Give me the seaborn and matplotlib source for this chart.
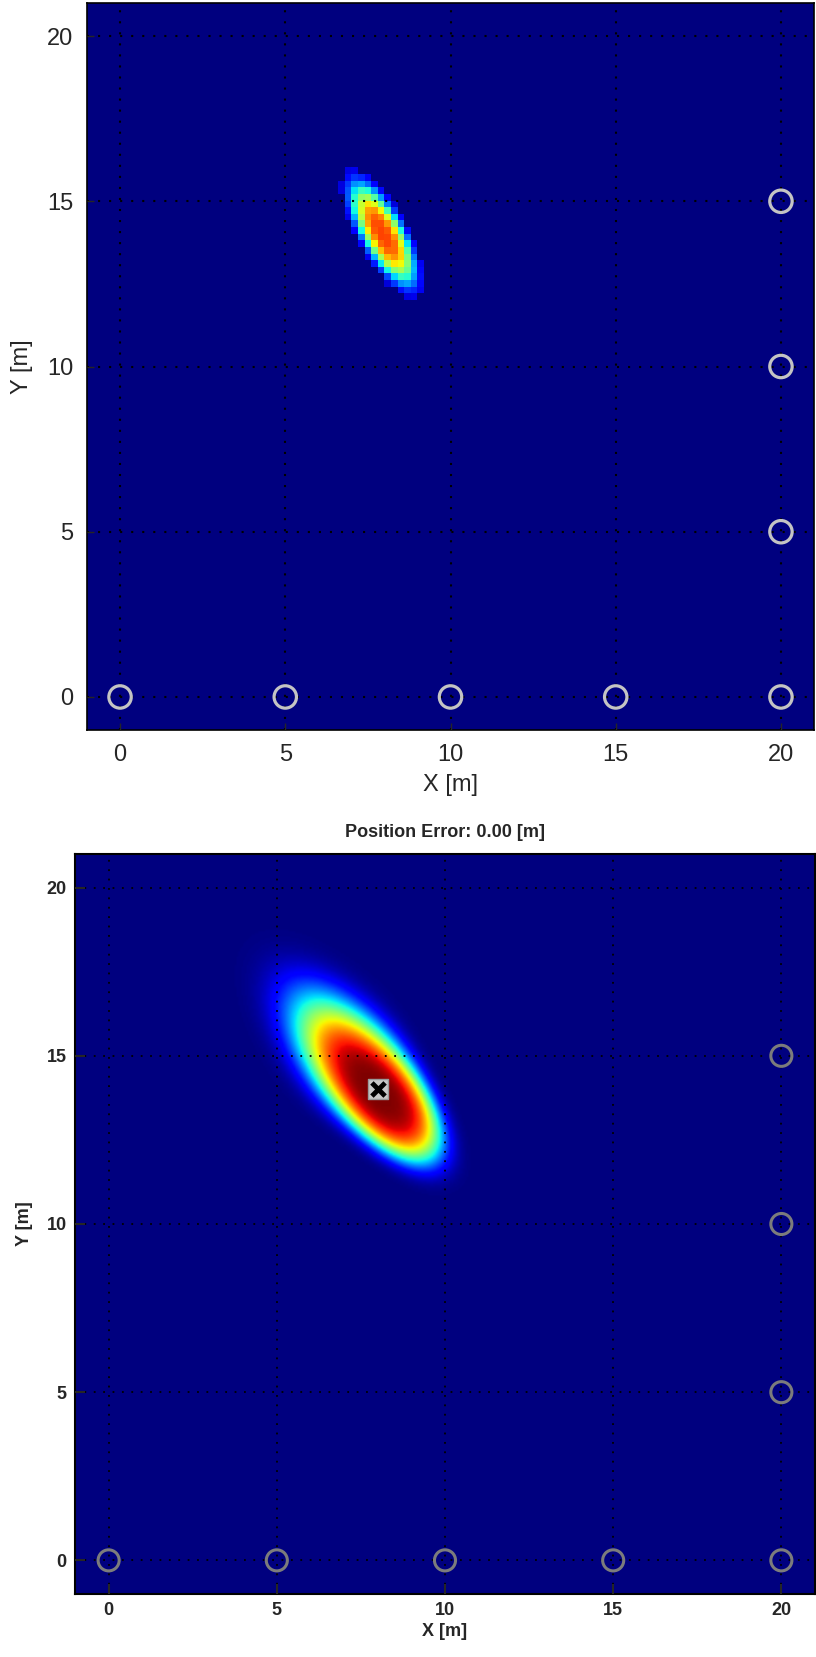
import numpy as np
import matplotlib
matplotlib.use("Agg")
import matplotlib.pyplot as plt
import seaborn as sns

# anchors (grey circles) and the estimated position
anchor_x = [0, 5, 10, 15, 20, 20, 20, 20]
anchor_y = [0, 0, 0, 0, 0, 5, 10, 15]
est_x = [8.0]
est_y = [14.0]
ticks = [0, 5, 10, 15, 20]
lims = (-1, 21)
position_error = 0.00

# top panel: particle histogram, 0.2 m cells (shape)
hist_center = (7.95, 14.0)
hist_angle = -61.0          # deg, direction of the long axis
hist_scale = (1.65, 0.58)   # long / short axis
hist_power = 3.0
hist_cell = 0.2
hist_cut = 0.09
hist_top_level = 0.84       # where the peak sits on the jet scale

# bottom panel: smooth likelihood surface, longer on the upper-left side
lik_center = (7.93, 14.03)
lik_angle = -50.0
lik_scale_major = (2.6, 3.3)    # lower-right side, upper-left side
lik_scale_minor = (1.16, 1.35)
lik_power = (4.3, 3.0)
lik_cell = 0.05


def rotate(X, Y, c, ang):
    a = np.deg2rad(ang)
    dx, dy = X - c[0], Y - c[1]
    u = dx * np.cos(a) + dy * np.sin(a)
    v = -dx * np.sin(a) + dy * np.cos(a)
    return u, v


# histogram grid
edges = np.arange(lims[0], lims[1] + 1e-9, hist_cell)
cen = edges[:-1] + hist_cell / 2
X, Y = np.meshgrid(cen, cen)
u, v = rotate(X, Y, hist_center, hist_angle)
r = np.sqrt((u / hist_scale[0]) ** 2 + (v / hist_scale[1]) ** 2)
H = np.exp(-r ** hist_power)
H[H < hist_cut] = 0

# likelihood grid
edges2 = np.arange(lims[0], lims[1] + 1e-9, lik_cell)
cen2 = edges2[:-1] + lik_cell / 2
X2, Y2 = np.meshgrid(cen2, cen2)
u2, v2 = rotate(X2, Y2, lik_center, lik_angle)
w = 1 / (1 + np.exp(np.clip(u2 / 0.8, -50, 50)))   # 1 on the upper-left side
su = lik_scale_major[0] * (1 - w) + lik_scale_major[1] * w
sv = lik_scale_minor[0] * (1 - w) + lik_scale_minor[1] * w
p = lik_power[0] * (1 - w) + lik_power[1] * w
rc = np.sqrt((u2 / su) ** 2 + (v2 / sv) ** 2)
L = np.exp(-rc ** p)

sns.set_style("ticks")
plt.rcParams["font.family"] = ["Liberation Sans", "DejaVu Sans"]

fig = plt.figure(figsize=(8.16, 16.57), dpi=100)
W, Hf = 816, 1657
ax1 = fig.add_axes([87 / W, 1 - 730 / Hf, 727 / W, 727 / Hf])
ax2 = fig.add_axes([75 / W, 1 - 1594 / Hf, 740 / W, 740 / Hf])

# ---- top
ax1.imshow(H, extent=(lims[0], lims[1], lims[0], lims[1]), origin="lower",
           cmap="jet", vmin=0, vmax=1 / hist_top_level,
           interpolation="nearest", aspect="auto")
sns.scatterplot(x=anchor_x, y=anchor_y, ax=ax1, marker="o", s=260,
                color="none", edgecolor="#c4c4c4", linewidth=2.3, zorder=3)
ax1.set_xlabel("X [m]", fontsize=17, labelpad=6)
ax1.set_ylabel("Y [m]", fontsize=17, labelpad=10)
ax1.tick_params(direction="in", length=5, width=1, pad=10, labelsize=17,
                top=False, right=False)

# ---- bottom
ax2.imshow(L, extent=(lims[0], lims[1], lims[0], lims[1]), origin="lower",
           cmap="jet", vmin=0, vmax=1, interpolation="bilinear", aspect="auto")
sns.scatterplot(x=anchor_x, y=anchor_y, ax=ax2, marker="o", s=230,
                color="none", edgecolor="#7c7c7c", linewidth=2.2, zorder=3)
sns.scatterplot(x=est_x, y=est_y, ax=ax2, marker="s", s=200,
                color="#c8c8c8", edgecolor="#9a9a9a", linewidth=1, zorder=4)
sns.scatterplot(x=est_x, y=est_y, ax=ax2, marker="x", s=90,
                color="black", linewidth=3.5, zorder=5)
ax2.set_title("Position Error: %.2f [m]" % position_error, fontsize=13,
              fontweight="bold", pad=12)
ax2.set_xlabel("X [m]", fontsize=13, fontweight="bold", labelpad=3)
ax2.set_ylabel("Y [m]", fontsize=13, fontweight="bold", labelpad=10)
ax2.tick_params(direction="in", length=7, width=1.5, pad=6, labelsize=13,
                top=False, right=False)

for ax, lw, dash in ((ax1, 1.5, (1, 4.3)), (ax2, 1.3, (1, 4.2))):
    ax.set_xlim(*lims)
    ax.set_ylim(*lims)
    ax.set_xticks(ticks)
    ax.set_yticks(ticks)
    ax.set_axisbelow(False)
    ax.grid(True, color="black", linewidth=lw, linestyle=(0, dash))
    for sp in ax.spines.values():
        sp.set_visible(True)
        sp.set_color("black")
        sp.set_linewidth(1.5 if ax is ax2 else 1.2)
    if ax is ax2:
        for lab in ax.get_xticklabels() + ax.get_yticklabels():
            lab.set_fontweight("bold")

fig.savefig("out.png", dpi=100)
